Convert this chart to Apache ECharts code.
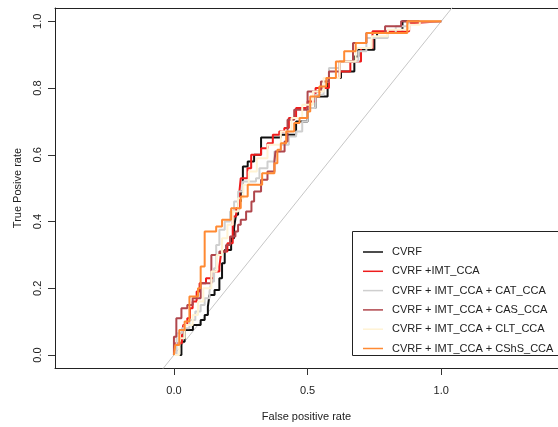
<!DOCTYPE html>
<html>
<head>
	<meta charset="utf-8">
	<title>ROC</title>
	<script src="https://cdn.jsdelivr.net/npm/echarts@6/dist/echarts.min.js"></script>
	<style>
		body{ margin:0; background:#fff; }
		#roc{ width:558px; height:427px; }
	</style>
</head>
<body>
<div id="roc"></div>
<script>
// legend names
var names = ['CVRF', 'CVRF +IMT_CCA', 'CVRF + IMT_CCA + CAT_CCA', 'CVRF + IMT_CCA + CAS_CCA', 'CVRF + IMT_CCA + CLT_CCA', 'CVRF + IMT_CCA + CShS_CCA'];
var colors = ['#111111', '#ee1c1c', '#cfcfcf', '#b0464c', '#fff3d4', '#ff8a33'];

// ROC vertices (top of each rise)
var cvrfFpr = [0, 0.028, 0.04, 0.071, 0.10, 0.115, 0.127, 0.133, 0.152, 0.17, 0.18, 0.19, 0.214, 0.225, 0.232, 0.24, 0.25, 0.258, 0.276, 0.30, 0.326, 0.40, 0.457, 0.50, 0.53, 0.575, 0.58, 0.625, 0.675, 0.69, 0.75, 0.76, 0.84, 0.855, 1.0];
var cvrfTpr = [0, 0.04, 0.075, 0.09, 0.105, 0.12, 0.145, 0.18, 0.195, 0.23, 0.275, 0.315, 0.35, 0.38, 0.42, 0.46, 0.49, 0.565, 0.58, 0.60, 0.652, 0.66, 0.70, 0.74, 0.775, 0.805, 0.83, 0.85, 0.895, 0.915, 0.95, 0.965, 0.97, 1.0, 1.0];

var imtFpr = [0, 0.003, 0.03, 0.035, 0.05, 0.06, 0.07, 0.085, 0.096, 0.12, 0.15, 0.17, 0.177, 0.20, 0.22, 0.233, 0.245, 0.25, 0.275, 0.289, 0.326, 0.35, 0.37, 0.394, 0.413, 0.43, 0.457, 0.50, 0.53, 0.58, 0.62, 0.66, 0.70, 0.743, 0.88, 0.90, 1.0];
var imtTpr = [0, 0.035, 0.06, 0.09, 0.11, 0.14, 0.16, 0.19, 0.215, 0.23, 0.25, 0.265, 0.31, 0.335, 0.415, 0.44, 0.49, 0.53, 0.56, 0.60, 0.62, 0.635, 0.66, 0.67, 0.68, 0.71, 0.74, 0.76, 0.80, 0.83, 0.85, 0.88, 0.92, 0.97, 0.995, 1.0, 1.0];

var catFpr = [0, 0.01, 0.03, 0.058, 0.08, 0.10, 0.115, 0.133, 0.14, 0.15, 0.158, 0.17, 0.19, 0.21, 0.225, 0.24, 0.258, 0.307, 0.32, 0.35, 0.376, 0.40, 0.43, 0.457, 0.48, 0.50, 0.53, 0.56, 0.58, 0.62, 0.69, 0.72, 0.80, 0.83, 0.88, 1.0];
var catTpr = [0, 0.065, 0.08, 0.105, 0.13, 0.15, 0.17, 0.19, 0.22, 0.26, 0.33, 0.375, 0.40, 0.43, 0.46, 0.49, 0.52, 0.53, 0.56, 0.58, 0.61, 0.63, 0.655, 0.67, 0.70, 0.74, 0.78, 0.82, 0.86, 0.88, 0.91, 0.95, 0.965, 0.985, 1.0, 1.0];

var casFpr = [0, 0, 0.009, 0.028, 0.05, 0.07, 0.10, 0.14, 0.17, 0.195, 0.21, 0.23, 0.24, 0.25, 0.27, 0.29, 0.30, 0.326, 0.35, 0.376, 0.38, 0.414, 0.425, 0.45, 0.50, 0.55, 0.58, 0.62, 0.67, 0.72, 0.79, 0.85, 1.0];
var casTpr = [0, 0.055, 0.11, 0.14, 0.15, 0.17, 0.215, 0.30, 0.31, 0.33, 0.355, 0.37, 0.39, 0.405, 0.43, 0.46, 0.49, 0.525, 0.55, 0.58, 0.61, 0.64, 0.705, 0.735, 0.79, 0.82, 0.85, 0.88, 0.935, 0.965, 0.985, 1.0, 1.0];

var cltFpr = [0, 0.02, 0.04, 0.07, 0.09, 0.11, 0.14, 0.16, 0.18, 0.20, 0.22, 0.24, 0.26, 0.28, 0.31, 0.35, 0.40, 0.44, 0.48, 0.52, 0.56, 0.62, 0.68, 0.74, 0.80, 0.88, 0.92, 1.0];
var cltTpr = [0, 0.05, 0.09, 0.12, 0.16, 0.20, 0.25, 0.30, 0.35, 0.39, 0.43, 0.47, 0.51, 0.55, 0.59, 0.63, 0.67, 0.71, 0.75, 0.79, 0.83, 0.88, 0.92, 0.955, 0.975, 0.99, 1.0, 1.0];

var cshsFpr = [0, 0.005, 0.02, 0.04, 0.058, 0.09, 0.10, 0.115, 0.115, 0.158, 0.18, 0.214, 0.25, 0.276, 0.33, 0.376, 0.387, 0.40, 0.42, 0.45, 0.47, 0.50, 0.51, 0.544, 0.57, 0.606, 0.637, 0.68, 0.72, 0.84, 0.873, 1.0];
var cshsTpr = [0, 0.03, 0.075, 0.10, 0.175, 0.20, 0.265, 0.285, 0.37, 0.385, 0.405, 0.44, 0.475, 0.51, 0.545, 0.575, 0.615, 0.635, 0.67, 0.695, 0.71, 0.73, 0.775, 0.805, 0.83, 0.88, 0.91, 0.935, 0.965, 0.965, 1.0, 1.0];

var xTicks = [0, 0.5, 1.0];
var yTicks = [0, 0.2, 0.4, 0.6, 0.8, 1.0];

var curves = [
	[cvrfFpr, cvrfTpr],
	[imtFpr, imtTpr],
	[catFpr, catTpr],
	[casFpr, casTpr],
	[cltFpr, cltTpr],
	[cshsFpr, cshsTpr]
];

function zip(xs, ys){
	var out = [];
	for (var i = 0; i < xs.length; i++) out.push([xs[i], ys[i]]);
	return out;
}

var font = "'Liberation Sans', Arial, sans-serif";
var series = [{
	name: 'chance',
	type: 'line',
	data: [[-0.1, -0.1], [1.2, 1.2]],
	showSymbol: false,
	silent: true,
	lineStyle: { color: '#c6c6c6', width: 1 },
	z: 1
}];
curves.forEach(function(c, i){
	series.push({
		name: names[i],
		type: 'line',
		step: 'end',
		data: zip(c[0], c[1]),
		showSymbol: false,
		lineStyle: { color: colors[i], width: 2 },
		itemStyle: { color: colors[i] },
		z: 2 + i
	});
});

var boxLine = { show: true, onZero: false, lineStyle: { color: '#222', width: 1 } };

var myChart = echarts.init(document.getElementById('roc'));
myChart.setOption({
	animation: false,
	backgroundColor: '#fff',
	textStyle: { fontFamily: font },
	grid: { left: 55, top: 8, right: 0, bottom: 59 },
	// legend frame runs off the right edge like in the original
	graphic: [{
		type: 'rect',
		left: 352, top: 231, z: 90,
		shape: { x: 0, y: 0, width: 240, height: 124 },
		style: { fill: '#fff', stroke: '#222', lineWidth: 1 }
	}],
	xAxis: [{
		type: 'value', min: -0.445, max: 1.437,
		name: 'False positive rate', nameLocation: 'middle', nameGap: 43,
		nameTextStyle: { fontSize: 11, color: '#222', fontFamily: font },
		axisLine: boxLine,
		splitLine: { show: false },
		axisTick: { show: true, length: 7, lineStyle: { color: '#333' }, customValues: xTicks },
		axisLabel: {
			fontSize: 11, color: '#222', margin: 17, fontFamily: font,
			customValues: xTicks,
			formatter: function(v){ return v.toFixed(1); }
		}
	}, {
		// top edge of the box
		type: 'value', position: 'top', min: -0.445, max: 1.437,
		axisLine: boxLine,
		axisTick: { show: false }, axisLabel: { show: false }, splitLine: { show: false }
	}],
	yAxis: {
		type: 'value', min: -0.039, max: 1.040,
		name: 'True Posive rate', nameLocation: 'middle', nameGap: 32,
		nameTextStyle: { fontSize: 11, color: '#222', fontFamily: font },
		axisLine: boxLine,
		splitLine: { show: false },
		axisTick: { show: true, length: 7, lineStyle: { color: '#333' }, customValues: yTicks },
		axisLabel: {
			fontSize: 11, color: '#222', margin: 12, rotate: 90, fontFamily: font,
			customValues: yTicks,
			formatter: function(v){ return v.toFixed(1); }
		}
	},
	legend: {
		data: names,
		orient: 'vertical',
		left: 352, top: 231, z: 100,
		icon: 'rect',
		itemWidth: 20, itemHeight: 1.5,
		itemGap: 5.3,
		padding: [14, 0, 4, 11],
		borderWidth: 0,
		selectedMode: false,
		textStyle: { fontSize: 11, color: '#222', lineHeight: 14, padding: [0, 0, 0, 4], fontFamily: font }
	},
	series: series
});
</script>
</body>
</html>
